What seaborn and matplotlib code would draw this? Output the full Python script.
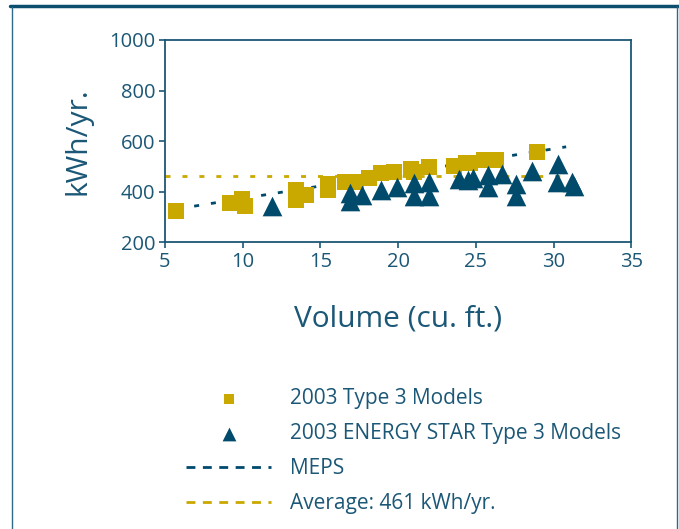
import matplotlib
matplotlib.use('Agg')
import matplotlib.pyplot as plt
import seaborn as sns
import pandas as pd
from matplotlib.lines import Line2D

# 2003 Type 3 models (volume cu. ft., kWh/yr.)
type3_vol=[5.7,9.15,9.95,10.15,13.45,13.45,14.1,15.5,15.5,16.6,17.3,18.1,18.9,19.7,20.8,21.0,22.0,23.6,24.35,24.6,25.5,26.3,28.9]
type3_kwh=[324,357,370,345,407,368,389,433,409,440,438,453,473,479,489,480,499,504,515,516,526,526,558]
# 2003 ENERGY STAR type 3 models
es_vol=[11.9,16.9,16.9,17.7,18.9,19.95,21.0,21.0,22.0,22.0,23.9,24.5,24.8,25.75,25.75,26.7,27.6,27.6,28.6,30.3,30.2,31.2,31.3]
es_kwh=[345,365,395,386,407,420,434,385,440,385,450,447,453,466,420,470,430,385,482,510,440,440,425]
# MEPS line end points and average line
meps_vol=[5.8,30.8]
meps_kwh=[333,578]
avg_vol=[5.0,31.0]
avg_kwh=[461,461]

xticks=[5,10,15,20,25,30,35]
yticks=[200,400,600,800,1000]

gold='#C9A800'
navy='#004A6C'
txt='#1B5776'

sns.set_style('white')
plt.rcParams['font.family']=['Open Sans','DejaVu Sans']

fig=plt.figure(figsize=(6.79,5.29),dpi=100)
ax=fig.add_axes([0.243,0.5416,0.687,0.3828])

sns.lineplot(x=avg_vol,y=avg_kwh,ax=ax,color=gold,linewidth=2,linestyle=(0,(1.8,4.3)),label='Average: 461 kWh/yr.',zorder=1)
sns.lineplot(x=meps_vol,y=meps_kwh,ax=ax,color=navy,linewidth=2,linestyle=(0,(1.8,4.3)),label='MEPS',zorder=2)
sns.scatterplot(x=type3_vol,y=type3_kwh,ax=ax,marker='s',s=128,color=gold,linewidth=0,label='2003 Type 3 Models',zorder=3)
sns.scatterplot(x=es_vol,y=es_kwh,ax=ax,marker='^',s=200,color=navy,linewidth=0,label='2003 ENERGY STAR Type 3 Models',zorder=4)

ax.set_xlim(5,35)
ax.set_ylim(200,1000)
ax.set_xticks(xticks)
ax.set_yticks(yticks)
ax.tick_params(axis='both',direction='out',length=4,width=1.2,color=txt,labelcolor=txt,labelsize=14.5,pad=3,left=True,bottom=True)
for sp in ax.spines.values():
    sp.set_color(txt)
    sp.set_linewidth(1.3)
ax.set_xlabel('Volume (cu. ft.)',fontsize=21.5,color=txt)
ax.set_ylabel('kWh/yr.',fontsize=21.5,color=txt)
ax.xaxis.set_label_coords(0.5,-0.305)
ax.yaxis.set_label_coords(-0.156,0.5)

# legend below the chart, rebuilt in the order of the original
h,l=ax.get_legend_handles_labels()
ax.get_legend().remove()
order=['2003 Type 3 Models','2003 ENERGY STAR Type 3 Models','MEPS','Average: 461 kWh/yr.']
hd=dict(zip(l,h))
leg=fig.legend([hd[k] for k in order],order,loc='upper left',bbox_to_anchor=(0.274,0.266),frameon=False,
               fontsize=15,handlelength=4.1,handletextpad=0.9,labelspacing=0.67,borderpad=0,borderaxespad=0,markerscale=0.7)
for t in leg.get_texts():
    t.set_color(txt)
for lh in leg.legend_handles[2:]:
    lh.set_linestyle((0,(3.2,2.7)))#legend dashes are longer than in the plot

# frame round the slide
fig.add_artist(Line2D([10/679,1],[1-6/529,1-6/529],color='#0C4E6E',linewidth=2.5))
fig.add_artist(Line2D([12/679,12/679],[0,1-7/529],color='#2F6A88',linewidth=1))
fig.add_artist(Line2D([677/679,677/679],[0,1-7/529],color='#2F6A88',linewidth=1))

fig.savefig('out.png',dpi=100)
